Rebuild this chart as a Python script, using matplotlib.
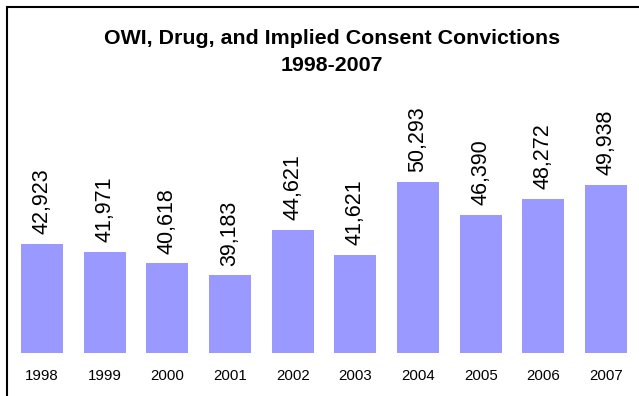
import matplotlib
matplotlib.use("Agg")
import matplotlib.pyplot as plt
from matplotlib.patches import Rectangle

years = ["1998", "1999", "2000", "2001", "2002", "2003", "2004", "2005", "2006", "2007"]
convictions = [42923, 41971, 40618, 39183, 44621, 41621, 50293, 46390, 48272, 49938]

plt.rcParams['font.family'] = ['Liberation Sans', 'DejaVu Sans']

W, H = 639, 396
fig = plt.figure(figsize=(W / 100, H / 100), dpi=100)
ax = fig.add_axes([10.7 / W, 1 - 352.7 / H, (637.3 - 10.7) / W, (352.7 - 100) / H])

xs = range(len(years))
ax.bar(xs, convictions, width=0.67, color='#9999FF', bottom=0)
ax.set_ylim(30000, 60000)
ax.set_xlim(-0.5, len(years) - 0.5)

for x, v in zip(xs, convictions):
    ax.annotate(f"{v:,}", (x, v), xytext=(0, 7), textcoords='offset points',
                rotation=90, ha='center', va='bottom', fontsize=15.5)

ax.set_xticks(list(xs))
ax.set_xticklabels(years, fontsize=10.8)
ax.tick_params(axis='x', length=0, pad=12)
ax.set_yticks([])
for s in ax.spines.values():
    s.set_visible(False)

fig.text(332 / W, 1 - 52 / H, "OWI, Drug, and Implied Consent Convictions\n1998-2007",
         ha='center', va='center', fontsize=15.4, fontweight='bold', linespacing=1.55)

# frame around the chart (runs off the right and bottom edges)
fig.add_artist(Rectangle((6.5 / W, -0.1), 1.0, 1 - 7 / H + 0.1, transform=fig.transFigure,
                         fill=False, edgecolor='black', linewidth=1.5, clip_on=False))

fig.savefig("out.png", dpi=100)
